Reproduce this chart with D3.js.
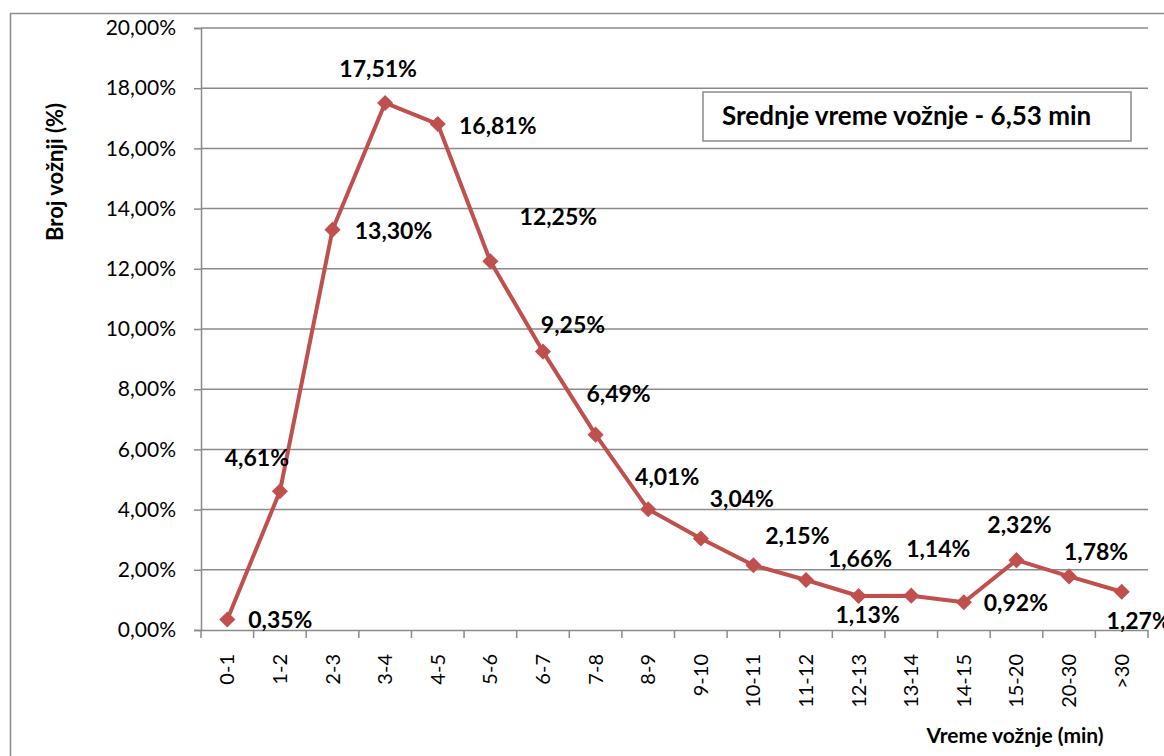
<!DOCTYPE html>
<html><head><meta charset="utf-8">
<script src="https://cdn.jsdelivr.net/npm/d3@7"></script>
<style>html,body{margin:0;padding:0;background:#fff;overflow:hidden}svg{display:block}text{font-family:Lato,"Open Sans",sans-serif}</style>
</head><body><svg id="c" width="1164" height="756"></svg>
<script>
const categories = ["0-1","1-2","2-3","3-4","4-5","5-6","6-7","7-8","8-9","9-10","10-11","11-12","12-13","13-14","14-15","15-20","20-30",">30"];
const values = [0.35,4.61,13.30,17.51,16.81,12.25,9.25,6.49,4.01,3.04,2.15,1.66,1.13,1.14,0.92,2.32,1.78,1.27];
const yTicks = [0,2,4,6,8,10,12,14,16,18,20];
// label placement offsets (dx, dy) relative to each point
const labelDx = [53,-23,61,-7,60,68,30,23,19,41,44,54,9,27,52,3,27,17];
const labelDy = [3,-31,3,-32,4,-42,-24,-39,-30,-37,-27,-19,21,-45,3,-33,-22,31];
const yTitle = "Broj vožnji (%)";
const xTitle = "Vreme vožnje (min)";
const note = "Srednje vreme vožnje - 6,53 min";

const svg = d3.select("#c");
const L = 201, R = 1148, T = 28, B = 630;
const fmt = v => d3.format(".2f")(v).replace(".", ",") + "%";

// outer chart border
svg.append("rect").attr("x",10.5).attr("y",13.5).attr("width",1200).attr("height",800)
  .attr("fill","none").attr("stroke","#8c8c8c").attr("stroke-width",1.5);

const x = d3.scaleBand().domain(categories).range([L,R]).padding(0);
const y = d3.scaleLinear().domain([0,20]).range([B,T]);

// gridlines
svg.append("g").selectAll("line").data(yTicks.filter(d=>d>0)).join("line")
  .attr("x1",L).attr("x2",R).attr("y1",d=>y(d)).attr("y2",d=>y(d))
  .attr("stroke","#8a8a8a").attr("stroke-width",1.5);

// y axis
const ya = svg.append("g").attr("transform",`translate(${L},0)`)
  .call(d3.axisLeft(y).tickValues(yTicks).tickSize(7).tickPadding(18).tickFormat(fmt));
ya.select(".domain").attr("stroke","#8a8a8a").attr("stroke-width",1.5);
ya.selectAll(".tick line").attr("stroke","#8a8a8a").attr("stroke-width",1.5);
ya.selectAll("text").attr("font-size",21).attr("fill","#000").attr("font-family","Lato, sans-serif");

// x axis
const xa = svg.append("g").attr("transform",`translate(0,${B})`)
  .call(d3.axisBottom(x).tickSize(0).tickFormat(d=>d));
xa.select(".domain").attr("stroke","#8a8a8a").attr("stroke-width",1.5);
xa.selectAll(".tick text").attr("font-size",20).attr("fill","#000").attr("font-family","Lato, sans-serif")
  .attr("text-anchor","end").attr("transform","rotate(-90)").attr("dy","0.35em").attr("y",0).attr("x",-24);
// boundary tick marks
const bounds = categories.map(c=>x(c)).concat([R]);
xa.append("g").selectAll("line").data(bounds).join("line")
  .attr("x1",d=>d).attr("x2",d=>d).attr("y1",0).attr("y2",8)
  .attr("stroke","#8a8a8a").attr("stroke-width",1.5);

// line
const cx = (d,i) => x(categories[i]) + x.bandwidth()/2;
svg.append("path").datum(values)
  .attr("d", d3.line().x((d,i)=>cx(d,i)).y(d=>y(d)))
  .attr("fill","none").attr("stroke","#C0504D").attr("stroke-width",4).attr("stroke-linejoin","round");

// markers
svg.append("g").selectAll("path").data(values).join("path")
  .attr("d", d3.symbol(d3.symbolSquare, 130))
  .attr("transform",(d,i)=>`translate(${cx(d,i)},${y(d)}) rotate(45)`)
  .attr("fill","#C0504D");

// labels
svg.append("g").selectAll("text").data(values).join("text")
  .attr("x",(d,i)=>cx(d,i)+labelDx[i]).attr("y",(d,i)=>y(d)+labelDy[i])
  .attr("text-anchor","middle").attr("dominant-baseline","middle")
  .attr("font-size",23).attr("font-weight","bold").attr("fill","#000")
  .text(d=>fmt(d));

// axis titles
svg.append("text").attr("transform","translate(63,172) rotate(-90)")
  .attr("text-anchor","middle").attr("font-size",22).attr("font-weight","bold").text(yTitle);
svg.append("text").attr("x",1015).attr("y",743).attr("text-anchor","middle")
  .attr("font-size",21).attr("font-weight","bold").text(xTitle);

// note box
svg.append("rect").attr("x",703).attr("y",92).attr("width",428).attr("height",49)
  .attr("fill","#fff").attr("stroke","#8a8a8a").attr("stroke-width",1.5);
svg.append("text").attr("x",722).attr("y",118).attr("dominant-baseline","middle")
  .attr("font-size",26).attr("font-weight","bold").text(note);
</script></body></html>
